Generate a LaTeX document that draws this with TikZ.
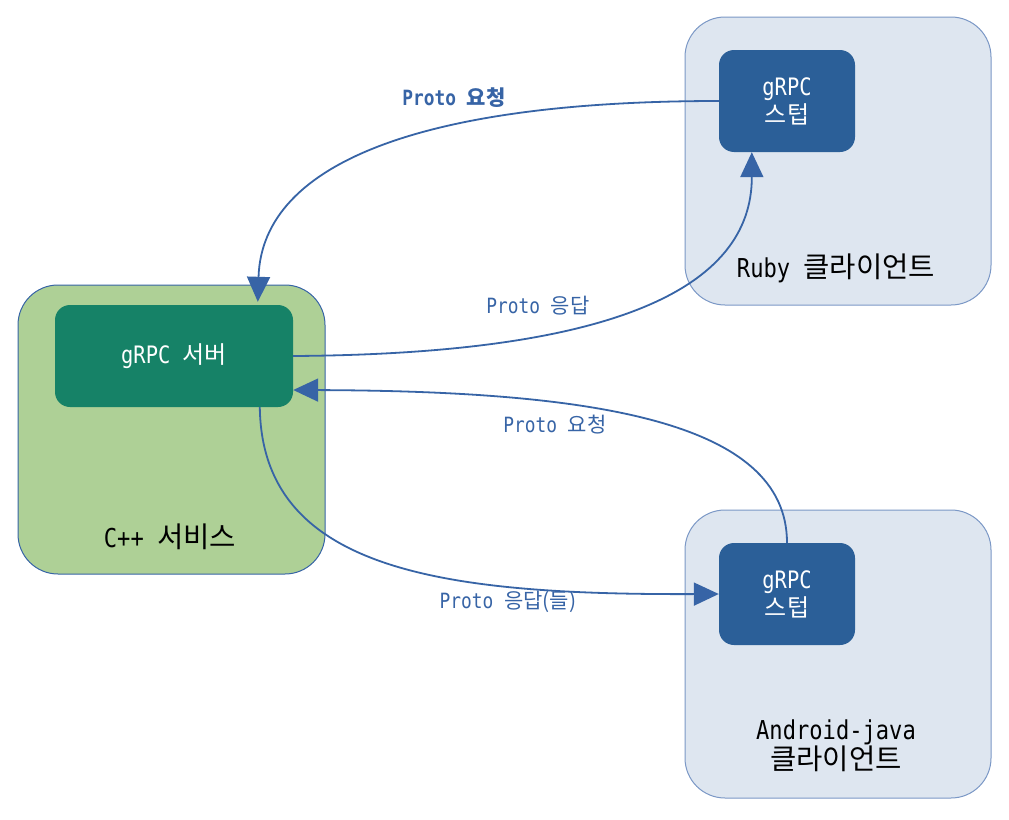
\documentclass[tikz,border=0pt]{standalone}
\usepackage{fontspec}
\setmainfont[FakeStretch=0.85]{DejaVu Sans Mono}
\newfontfamily\kr{Noto Sans CJK KR}
\newfontfamily\krb[Scale=1.1]{Noto Sans CJK KR}
\newcommand{\K}[1]{{\kr #1}}
\newcommand{\KB}[1]{{\krb #1}}
\usetikzlibrary{arrows.meta,calc}
\definecolor{lineblue}{HTML}{3764A6}
\definecolor{stubblue}{HTML}{2B5F98}
\definecolor{servgreen}{HTML}{168267}
\definecolor{svcgreen}{HTML}{AED096}
\definecolor{clientbg}{HTML}{DEE6F0}
\definecolor{clientbd}{HTML}{7B98C6}
\begin{document}
\begin{tikzpicture}[x=1pt,y=-1pt,
  outer/.style={draw=clientbd,line width=1pt,rounded corners=40pt,minimum width=306pt,minimum height=288pt,inner sep=0pt},
  inner/.style={draw=none,rounded corners=15pt,inner sep=0pt,text=white,align=center,font=\fontsize{24}{28}\selectfont},
  lbl/.style={text=lineblue,font=\fontsize{21}{24}\selectfont,inner sep=0pt},
  big/.style={font=\fontsize{26}{28}\selectfont,align=center,inner sep=0pt},
  conn/.style={draw=lineblue,line width=1.8pt,-{Triangle[length=25pt,width=23pt]}}]
\useasboundingbox (0,0) rectangle (1009,819);
\fill[white] (0,0) rectangle (1009,819);
% containers
\node[outer,fill=clientbg] (ruby) at (838,161) {};
\node[outer,fill=clientbg] (android) at (838,654) {};
\node[outer,fill=svcgreen,draw=lineblue,minimum width=307pt,minimum height=289pt] (cpp) at (171.5,429.5) {};
% inner nodes
\node[inner,fill=stubblue,minimum width=136pt,minimum height=102pt] (stub1) at (787,101) {gRPC\\\K{스텁}};
\node[inner,fill=stubblue,minimum width=136pt,minimum height=102pt] (stub2) at (787,594) {gRPC\\\K{스텁}};
\node[inner,fill=servgreen,minimum width=238pt,minimum height=102pt] (server) at (174,356) {gRPC \K{서버}};
% container labels
\node[big] (rubylbl) at (836,268) {Ruby \KB{클라이언트}};
\node[big] (andlbl) at (836,746) {Android-java\\\KB{클라이언트}};
\node[big] (cpplbl) at (170,537) {C++ \KB{서비스}};
% connectors
\coordinate (s1w) at (stub1.west);
\coordinate (s1s) at ($(stub1.south west)+(33,0)$);
\coordinate (svn) at ($(server.north west)+(203,-3)$);
\coordinate (sve) at (server.east);
\coordinate (sve2) at ($(server.east)+(0,34)$);
\coordinate (svs) at ($(server.south west)+(205,0)$);
\coordinate (s2n) at (stub2.north);
\coordinate (s2w) at (stub2.west);
\draw[conn] (s1w) .. controls (430,101) and (262,160) .. (svn);
\draw[conn] (sve) .. controls (610,354) and (752,290) .. (s1s);
\draw[conn] (s2n) .. controls (787,420) and (590,391) .. (sve2);
\draw[conn] (svs) .. controls (262,570) and (440,595) .. (s2w);
% labels
\node[lbl,font=\fontsize{21}{24}\selectfont\bfseries] (l1) at (454,98) {Proto \K{요청}};
\node[lbl] (l2) at (538,306) {Proto \K{응답}};
\node[lbl] (l3) at (555,425) {Proto \K{요청}};
\node[lbl] (l4) at (508,602) {Proto \K{응답(들)}};
\end{tikzpicture}
\end{document}
